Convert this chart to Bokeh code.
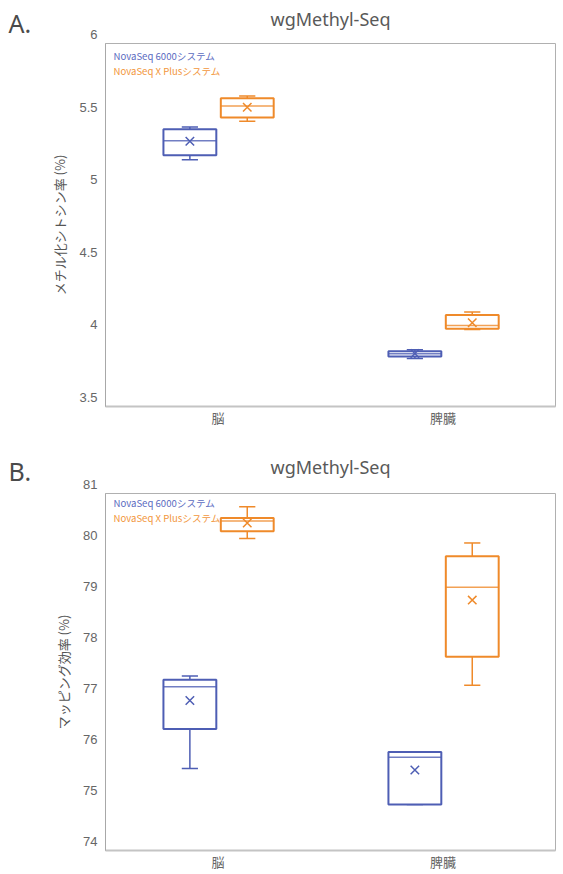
from bokeh.plotting import figure
from bokeh.models import ColumnDataSource, Range1d, FactorRange, FixedTicker, Label
from bokeh.transform import dodge
from bokeh.layouts import column
from bokeh.embed import file_html
from bokeh.resources import INLINE

# ---------------- data ----------------
categories = ["脳", "脾臓"]
series_names = ["NovaSeq 6000システム", "NovaSeq X Plusシステム"]
chart_title = "wgMethyl-Seq"

# Panel A: メチル化シトシン率 (%)
a_6000_min = [5.20, 3.831]
a_6000_q1 = [5.23, 3.845]
a_6000_med = [5.33, 3.863]
a_6000_q3 = [5.41, 3.881]
a_6000_max = [5.425, 3.890]
a_6000_mean = [5.327, 3.865]

a_x_min = [5.464, 4.031]
a_x_q1 = [5.49, 4.036]
a_x_med = [5.57, 4.057]
a_x_q3 = [5.623, 4.130]
a_x_max = [5.639, 4.150]
a_x_mean = [5.561, 4.077]

# Panel B: マッピング効率 (%)
b_6000_min = [75.61, 74.90]
b_6000_q1 = [76.38, 74.90]
b_6000_med = [77.21, 75.83]
b_6000_q3 = [77.35, 75.93]
b_6000_max = [77.42, 75.93]
b_6000_mean = [76.94, 75.58]

b_x_min = [80.12, 77.24]
b_x_q1 = [80.26, 77.80]
b_x_med = [80.46, 79.16]
b_x_q3 = [80.52, 79.77]
b_x_max = [80.74, 80.03]
b_x_mean = [80.42, 78.91]

a_ticks = [3.5, 4, 4.5, 5, 5.5, 6]
a_tick_labels = ["3.5", "4", "4.5", "5", "5.5", "6"]
b_ticks = [74, 75, 76, 77, 78, 79, 80, 81]
b_tick_labels = ["74", "75", "76", "77", "78", "79", "80", "81"]

BLUE = "#4e5eb4"
ORANGE = "#ef8a2a"
BLUE_TXT = "#5b6bbf"
ORANGE_TXT = "#f2963c"

JP = "Noto Sans CJK JP"


def make_panel(letter, ylabel, yr, ticks, tick_labels, s6000, sx,
               height, top, bottom, title_y, letter_y):
    fh = height - top - bottom
    p = figure(x_range=FactorRange(factors=categories),
               y_range=Range1d(*yr), width=563, height=height,
               output_backend="svg", toolbar_location=None,
               min_border_left=105, min_border_right=8,
               min_border_top=top, min_border_bottom=bottom)
    p.title.visible = False
    p.xgrid.visible = False
    p.ygrid.visible = False
    p.outline_line_color = "#b0b0b0"
    p.outline_line_width = 1

    p.yaxis.ticker = FixedTicker(ticks=ticks)
    # trailing newline lifts each label slightly above its tick, as in the reference
    p.yaxis.major_label_overrides = {t: l + "\n" for t, l in zip(ticks, tick_labels)}
    p.yaxis.major_tick_line_color = None
    p.yaxis.major_tick_out = 0
    p.yaxis.major_tick_in = 0
    p.yaxis.minor_tick_line_color = None
    p.yaxis.minor_tick_out = 0
    p.yaxis.axis_line_color = "#a8a8a8"
    p.yaxis.major_label_standoff = 8
    p.yaxis.major_label_text_font = "Liberation Sans"
    p.yaxis.major_label_text_font_size = "13px"
    p.yaxis.major_label_text_color = "#666666"
    p.yaxis.axis_label = ylabel
    p.yaxis.axis_label_text_font = JP
    p.yaxis.axis_label_text_font_size = "13px"
    p.yaxis.axis_label_text_font_style = "normal"
    p.yaxis.axis_label_text_color = "#555555"
    p.yaxis.axis_label_standoff = 7

    p.xaxis.major_tick_line_color = None
    p.xaxis.major_tick_out = 0
    p.xaxis.major_tick_in = 0
    p.xaxis.axis_line_color = "#c4c4c4"
    p.xaxis.axis_line_width = 2
    p.xaxis.major_label_standoff = 1
    p.xaxis.major_label_text_font = JP
    p.xaxis.major_label_text_font_size = "13px"
    p.xaxis.major_label_text_color = "#666666"

    for s, off, col in ((s6000, -0.125, BLUE), (sx, 0.13, ORANGE)):
        src = ColumnDataSource(dict(cat=categories, lo=s[0], q1=s[1],
                                    med=s[2], q3=s[3], hi=s[4], mean=s[5]))
        xr = p.x_range
        xc = dodge("cat", off, range=xr)
        # whiskers
        p.segment(x0=xc, x1=xc, y0="q3", y1="hi", source=src,
                  line_color=col, line_width=1.5)
        p.segment(x0=xc, x1=xc, y0="q1", y1="lo", source=src,
                  line_color=col, line_width=1.5)
        for yk in ("hi", "lo"):
            p.segment(x0=dodge("cat", off - 0.036, range=xr),
                      x1=dodge("cat", off + 0.036, range=xr),
                      y0=yk, y1=yk, source=src, line_color=col,
                      line_width=1.5)
        # box
        p.vbar(x=xc, width=0.235, top="q3", bottom="q1", source=src,
               fill_color="white", line_color=col, line_width=2)
        # median
        p.segment(x0=dodge("cat", off - 0.1175, range=xr),
                  x1=dodge("cat", off + 0.1175, range=xr),
                  y0="med", y1="med", source=src, line_color=col,
                  line_width=1.5, line_alpha=0.8)
        # mean
        p.scatter(x=xc, y="mean", source=src, marker="x", size=12,
                  line_color=col, line_width=1.5)

    # chart title (side panel, canvas units, not clipped)
    p.add_layout(Label(x=330, y=title_y, x_units="canvas", y_units="canvas",
                       text=chart_title, text_align="center",
                       text_baseline="middle", text_font="Noto Sans",
                       text_font_size="18px", text_color="#595959"), "above")
    # panel letter
    p.add_layout(Label(x=8, y=letter_y, x_units="canvas", y_units="canvas",
                       text=letter, text_align="left",
                       text_baseline="middle", text_font="Noto Sans",
                       text_font_size="25px", text_color="#4a4a4a"), "left")
    # legend texts
    p.add_layout(Label(x=8, y=fh - 12, x_units="screen", y_units="screen",
                       text=series_names[0], text_align="left",
                       text_baseline="middle", text_font=JP,
                       text_font_size="9.6px", text_color=BLUE_TXT))
    p.add_layout(Label(x=8, y=fh - 27, x_units="screen", y_units="screen",
                       text=series_names[1], text_align="left",
                       text_baseline="middle", text_font=JP,
                       text_font_size="9.6px", text_color=ORANGE_TXT))
    return p


pa = make_panel("A.", "メチル化シトシン率 (%)", (3.5, 6), a_ticks, a_tick_labels,
                (a_6000_min, a_6000_q1, a_6000_med, a_6000_q3, a_6000_max, a_6000_mean),
                (a_x_min, a_x_q1, a_x_med, a_x_q3, a_x_max, a_x_mean),
                446, 43, 40, 18, 22)
pb = make_panel("B.", "マッピング効率 (%)", (74, 81), b_ticks, b_tick_labels,
                (b_6000_min, b_6000_q1, b_6000_med, b_6000_q3, b_6000_max, b_6000_mean),
                (b_x_min, b_x_q1, b_x_med, b_x_q3, b_x_max, b_x_mean),
                427, 47, 20, 20, 24)

layout = column(pa, pb, spacing=0)
open("out.html", "w").write(file_html(layout, INLINE))
